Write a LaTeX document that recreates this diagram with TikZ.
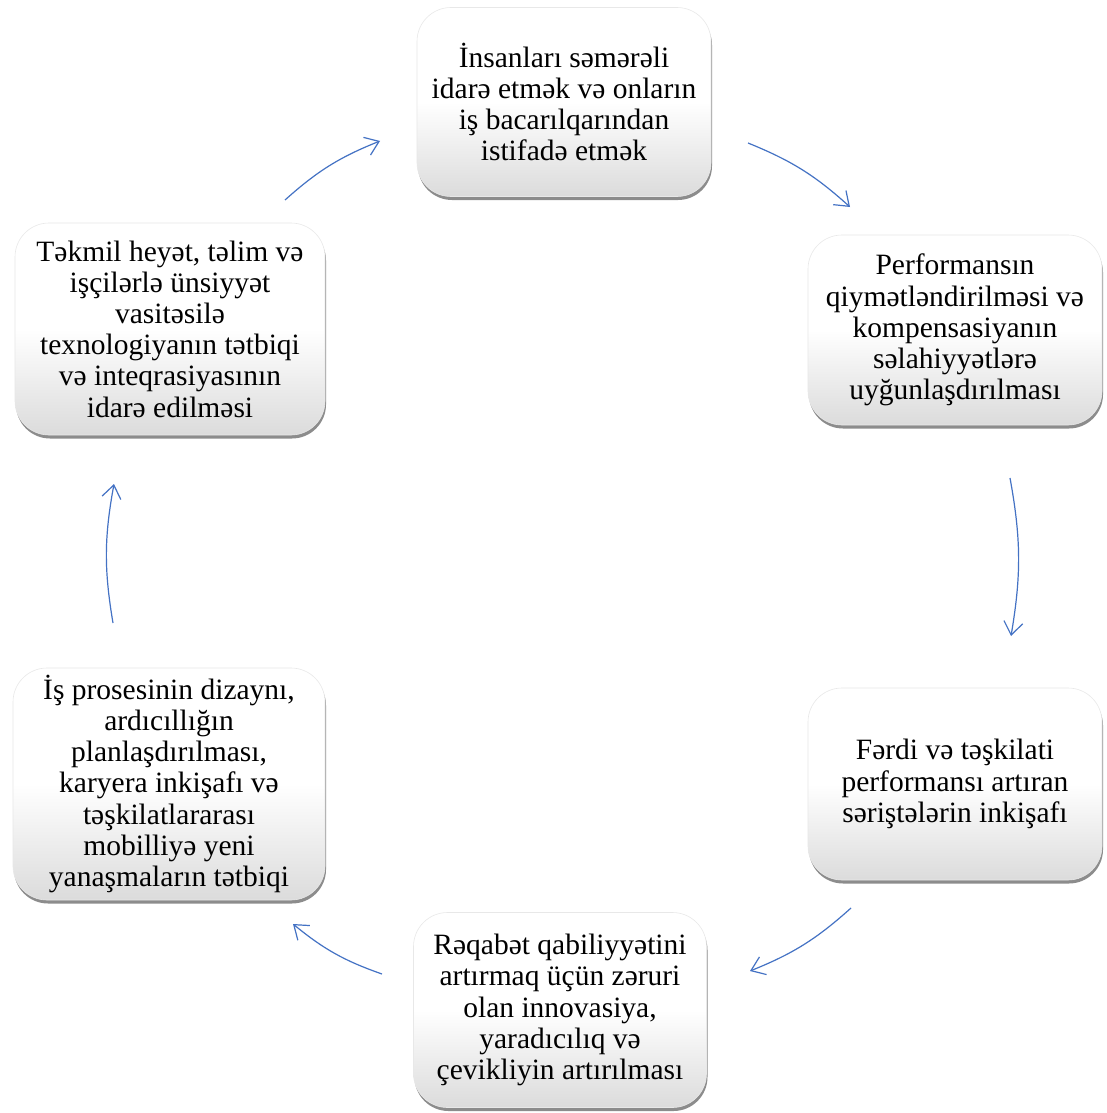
\documentclass[tikz,border=0pt]{standalone}
\usepackage{fontspec}
\setmainfont{Liberation Serif}
\usetikzlibrary{arrows.meta,shadows}
\begin{document}
\begin{tikzpicture}[x=1pt,y=-1pt,
  box/.style={rounded corners=34pt, align=center, inner sep=0pt,
    draw=black!9, line width=0.6pt,
    top color=white, bottom color=black!14, middle color=white,
    drop shadow={shadow xshift=1pt, shadow yshift=-3.5pt, fill=black, opacity=0.45},
    font=\fontsize{29.5}{31.2}\selectfont},
  flow/.style={color={rgb,255:red,68;green,114;blue,196}, line width=1.2pt,
    -{Straight Barb[length=13pt,width=19pt,line width=1.2pt]}, bend left=10}]
\useasboundingbox[fill=white] (0,0) rectangle (1106,1113);
\node[box, minimum width=294pt, minimum height=189pt] (top) at (564,102)
  {İnsanları səmərəli\\idarə etmək və onların\\iş bacarılqarından\\istifadə etmək};
\node[box, minimum width=294pt, minimum height=190pt] (ru) at (955,330)
  {Performansın\\qiymətləndirilməsi və\\kompensasiyanın\\səlahiyyətlərə\\uyğunlaşdırılması};
\node[box, minimum width=294pt, minimum height=192pt] (rl) at (955,784)
  {Fərdi və təşkilati\\performansı artıran\\səriştələrin inkişafı};
\node[box, minimum width=293pt, minimum height=195pt] (bot) at (560,1010)
  {Rəqabət qabiliyyətini\\artırmaq üçün zəruri\\olan innovasiya,\\yaradıcılıq və\\çevikliyin artırılması};
\node[box, minimum width=312pt, minimum height=232pt] (ll) at (169,784)
  {İş prosesinin dizaynı,\\ardıcıllığın\\planlaşdırılması,\\karyera inkişafı və\\təşkilatlararası\\mobilliyə yeni\\yanaşmaların tətbiqi};
\node[box, minimum width=310pt, minimum height=212pt] (lu) at (170,329)
  {Təkmil heyət, təlim və\\işçilərlə ünsiyyət\\vasitəsilə\\texnologiyanın tətbiqi\\və inteqrasiyasının\\idarə edilməsi};
\coordinate (a1s) at (285,200); \coordinate (a1e) at (380,141);
\coordinate (a2s) at (748,143); \coordinate (a2e) at (850,207);
\coordinate (a3s) at (1010,478); \coordinate (a3e) at (1011,636);
\coordinate (a4s) at (851,908); \coordinate (a4e) at (750,971);
\coordinate (a5s) at (382,974); \coordinate (a5e) at (293,924);
\coordinate (a6s) at (113,623); \coordinate (a6e) at (114,484);
\draw[flow] (a1s) to (a1e);
\draw[flow] (a2s) to (a2e);
\draw[flow] (a3s) to (a3e);
\draw[flow] (a4s) to (a4e);
\draw[flow] (a5s) to (a5e);
\draw[flow] (a6s) to (a6e);
\end{tikzpicture}
\end{document}
